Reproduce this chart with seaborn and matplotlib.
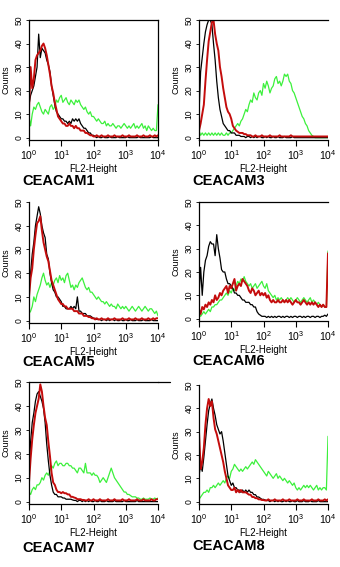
import numpy as np
import pandas as pd
import matplotlib
matplotlib.use("Agg")
import matplotlib.pyplot as plt
from matplotlib.lines import Line2D
import seaborn as sns

# ---------------- data ----------------
# FL2 channel grid (log10 decades 0..4, step 0.05)
decades = np.linspace(0, 4, 81)
fl2 = 10 ** decades

panel_names = ["CEACAM1", "CEACAM3", "CEACAM5", "CEACAM6", "CEACAM7", "CEACAM8"]

cea1_black = [14,18,20,22,26,30,44,34,38,37,36,33,31,28,22,18,14,11,10,9,8,8,7,7,6,7,6,8,7,8,7,8,6,5,4,4,3,2,2,1,1,0.5,0,0.5,0,0,0.5,0,0,0,0.5,0,0,0,0,0.5,0,0,0,0,0,0.5,0,0,0,0,0,0,0.5,0,0,0,0,0,0,0,0.5,0,0,0,0]
cea1_red = [12,30,21,25,33,35,36,37,39,40,38,35,31,27,22,19,15,12,9,8,7,6,6,5,5,6,5,5,4,5,4,4,3,3,3,2,2,1.5,1,1,0.5,0.5,1,0.5,0.5,1,0.5,0.5,0.5,1,0.5,0.5,0.5,1,0.5,0.5,0.5,0.5,1,0.5,0.5,0.5,1,0.5,0.5,0.5,0.5,1,0.5,0.5,0.5,1,0.5,0.5,0.5,1,0.5,0.5,1,0.5,1]
cea1_green = [9,5,10,13,12,14,15,13,11,10,12,11,10,13,14,12,13,16,15,17,18,15,16,17,15,14,16,15,14,16,15,16,14,13,12,13,11,10,11,9,9,8,7,8,7,6,6,7,5,6,5,5,6,5,4,5,5,4,5,6,5,4,5,4,5,6,4,5,4,5,6,4,5,3,5,4,3,4,3,3,14]

cea3_black = [10,28,34,40,45,48,50,50,48,40,33,24,17,12,9,6,5,4,3,3,2,2,2,1,1,1,0.5,0.5,0.5,0,0.5,0.5,0,0.5,0,0.5,0,0.5,0.5,0,0,0.5,0,0.5,0,0,0.5,0,0,0.5,0,0,0,0.5,0,0,0,0,0.5,0,0,0,0,0,0,0,0,0,0,0,0,0,0,0,0,0,0,0,0,0,0]
cea3_red = [3,6,10,14,24,33,41,45,49,50,44,40,37,30,26,21,17,13,11,10,8,5,4,3,2.5,2,2,2,1.5,1.5,1,1,1,0.5,0.5,1,0.5,0.5,0.5,1,0.5,0.5,0.5,0.5,1,0.5,0.5,0.5,0.5,0.5,1,0.5,0.5,0.5,0.5,0.5,0.5,1,0.5,0.5,0.5,0.5,0.5,0.5,0.5,0.5,0.5,0.5,0.5,0.5,0.5,0.5,0.5,0.5,0.5,0.5,0.5,0.5,0.5,0.5,0.5]
cea3_green = [3,1,2,1,2,1,2,1,2,1,2,1,2,1,2,1,1,2,1,2,2,3,4,5,6,5,7,8,10,12,11,14,16,15,19,17,16,19,20,18,23,21,24,22,19,21,22,25,26,23,24,22,24,27,26,27,24,23,20,19,17,15,13,11,9,8,6,5,3,2,1,0.5,0,0,0,0,0,0,0,0,0]

cea5_black = [15,20,28,33,40,44,48,45,40,37,35,28,26,20,16,13,12,10,10,9,8,6,6,5,5,5,6,5,6,5,10,4,4,3,3,3,2,2,2,1.5,1,1,0.5,0.5,0.5,0,0.5,0.5,0,0.5,0,0.5,0.5,0,0.5,0,0,0.5,0,0,0.5,0,0,0.5,0,0,0,0.5,0,0,0,0.5,0,0,0,0,0.5,0,0,0,0]
cea5_red = [10,18,22,30,36,41,42,44,38,33,30,27,25,21,17,15,13,11,9,8,7,7,6,6,5,5,5,5,4,4,4,3,3,3,2,2,2,1.5,1.5,1,1,0.5,1,0.5,0.5,1,0.5,0.5,0.5,1,0.5,0.5,0.5,1,0.5,0.5,0.5,0.5,1,0.5,0.5,0.5,1,0.5,0.5,0.5,1,0.5,0.5,0.5,1,0.5,0.5,0.5,1,0.5,0.5,1,0.5,1,1]
cea5_green = [3,4,6,10,8,11,13,15,18,20,17,15,16,14,16,15,17,18,16,19,17,18,16,19,20,17,14,15,13,15,14,16,17,18,16,14,13,14,12,12,11,10,9,10,9,8,8,7,8,7,6,7,6,6,5,7,6,5,6,5,6,5,4,5,6,5,4,5,6,5,4,5,6,5,4,5,5,4,3,4,2]

cea6_black = [10,22,10,20,25,27,31,33,32,32,27,36,30,26,21,20,20,17,15,15,14,13,11,11,10,10,9,8,8,7,7,7,6,6,5,5,3,2,1.5,1,1,1,0.5,1,0.5,1,0.5,1,0.5,1,1,0.5,1,0.5,1,1,0.5,1,0.5,1,1,0.5,1,1,0.5,1,0.5,1,1,0.5,1,1,0.5,1,1,0.5,1,1,1.5,1,2]
cea6_red = [4,2,5,4,6,5,7,6,8,7,10,8,9,11,10,12,13,14,11,14,13,15,17,12,14,15,14,17,16,15,14,12,11,13,12,10,11,12,10,11,10,11,9,10,8,7,8,7,7,8,7,7,8,7,8,7,8,7,6,7,8,7,7,6,7,8,7,6,7,6,7,6,7,6,5,6,5,6,5,5,28]
cea6_green = [2,1,2,3,2,3,4,3,5,5,6,6,7,8,8,9,10,11,10,12,11,13,12,14,16,15,17,16,18,16,15,14,15,13,14,15,13,14,15,16,14,13,15,12,11,10,9,10,8,9,8,9,8,7,8,9,8,9,8,7,8,9,8,7,8,9,8,7,8,9,7,8,7,6,7,6,5,6,5,5,29]

cea7_black = [11,25,33,37,42,45,46,44,42,39,33,24,17,11,7,4,3,3,2,2,2,1.5,1.5,1,1,1,1,0.7,0.5,0.5,0,0.5,0.5,0,0.5,0,0.5,0,0.5,0,0,0.5,0,0,0.5,0,0,0,0.5,0,0,0,0,0.5,0,0,0,0,0,0.5,0,0,0,0,0,0,0,0.5,0,0,0,0,0,0,0,0,0,0,0,0,0]
cea7_red = [8,18,26,32,37,40,43,49,46,40,35,32,25,19,12,8,7,5,4,4,3.5,4,3.5,3.5,3,3,2,2,1.7,1.5,1,1,1,0.7,0.7,0.5,0.5,1,0.5,0.5,1,0.5,0.5,0.5,1,0.5,0.5,0.5,0.5,1,0.5,0.5,0.5,1,0.5,0.5,0.5,0.5,1,0.5,0.5,0.5,1,0.5,0.5,0.5,0.5,1,0.5,0.5,0.5,1,0.5,0.5,0.5,0.5,1,0.5,0.5,1,1]
cea7_green = [4,3,5,6,5,7,7,8,10,9,11,12,11,13,15,14,16,17,15,16,16,15,15,16,16,15,15,14,14,13,12,14,14,13,12,16,12,12,12,11,12,11,11,10,8,9,10,9,8,10,12,14,12,10,9,8,7,6,5,4,4,3,3,2.5,2,2,2,1.5,1.5,1,1,1.5,1,1,1,1.5,1,1,1.5,1,1.5]

cea8_black = [11,16,13,19,26,33,39,42,44,40,37,33,31,29,30,26,21,16,11,9,7,8,6,6,5,5,4,5,4,5,4,5,4,4,3,3,2,2,1.5,1,1,0.7,0.5,0.5,0,0.5,0.5,0,0.5,0,0.5,0,0,0.5,0,0.5,0,0,0.5,0,0,0.5,0,0,0,0.5,0,0,0,0.5,0,0,0,0,0.5,0,0,0,0,0,0]
cea8_red = [30,14,17,23,33,40,44,41,43,36,31,29,26,23,20,17,13,10,7,6,5,5,6,4,5,4,5,4,4,4,3.5,3,3,2,2,1.5,1.5,1,1,0.7,0.7,0.5,0.5,1,0.5,0.5,0.5,1,0.5,0.5,0.5,0.5,1,0.5,0.5,0.5,1,0.5,0.5,0.5,0.5,1,0.5,0.5,0.5,1,0.5,0.5,0.5,0.5,1,0.5,0.5,0.5,1,0.5,0.5,0.5,1,0.5,1]
cea8_green = [1,2,3,4,4,5,4,6,6,7,6,7,8,7,8,9,8,10,11,10,13,14,16,15,14,13,14,13,14,15,14,15,16,17,16,18,17,16,15,14,13,12,11,13,12,11,10,11,12,10,11,10,9,10,9,8,9,8,7,8,6,5,6,5,6,7,6,7,6,7,6,5,6,7,5,6,5,6,6,5,28]

black_series = [cea1_black, cea3_black, cea5_black, cea6_black, cea7_black, cea8_black]
red_series = [cea1_red, cea3_red, cea5_red, cea6_red, cea7_red, cea8_red]
green_series = [cea1_green, cea3_green, cea5_green, cea6_green, cea7_green, cea8_green]

count_ticks = [0, 10, 20, 30, 40, 50]
fl2_ticks = [1, 10, 100, 1000, 10000]
fl2_ticklabels = [r"$\mathregular{10^{0}}$", r"$\mathregular{10^{1}}$", r"$\mathregular{10^{2}}$",
                  r"$\mathregular{10^{3}}$", r"$\mathregular{10^{4}}$"]

# ---------------- style ----------------
sns.set_style("ticks")
plt.rcParams["font.family"] = ["Liberation Sans", "DejaVu Sans"]
plt.rcParams["mathtext.fontset"] = "custom"
plt.rcParams["mathtext.rm"] = "Liberation Sans"
for key in ["text.color", "axes.labelcolor", "xtick.color", "ytick.color", "axes.edgecolor"]:
    plt.rcParams[key] = "black"

W, H = 340, 567
fig = plt.figure(figsize=(W / 100, H / 100), dpi=100)
fig.patch.set_facecolor("white")

# pixel boxes: left, right, top, bottom
boxes = [(29, 158, 20, 140), (199, 328, 20, 140),
         (29, 158, 202, 323), (199, 328, 202, 321),
         (29, 158, 382, 504), (199, 328, 385, 504)]
top_spine = [True, True, False, True, True, False]
right_spine = [True, False, False, False, False, False]
label_pos = [(22, 181), (192, 181), (22, 362), (192, 361), (22, 548), (192, 546)]

C_BLACK = "#000000"
C_RED = "#c40c0c"
C_GREEN = "#3cf03c"

for k in range(6):
    L, R, T, B = boxes[k]
    ax = fig.add_axes([L / W, 1 - B / H, (R - L) / W, (B - T) / H])
    ax.set_facecolor("white")
    df = pd.DataFrame({"fl2": fl2, "black": black_series[k],
                       "red": red_series[k], "green": green_series[k]})
    sns.lineplot(data=df, x="fl2", y="green", ax=ax, color=C_GREEN, lw=0.9,
                 estimator=None, sort=False, legend=False)
    sns.lineplot(data=df, x="fl2", y="black", ax=ax, color=C_BLACK, lw=0.9,
                 estimator=None, sort=False, legend=False)
    sns.lineplot(data=df, x="fl2", y="red", ax=ax, color=C_RED, lw=1.4,
                 estimator=None, sort=False, legend=False)
    ax.set_xscale("log")
    ax.set_xlim(1, 10000)
    ax.set_ylim(-1, 50)
    ax.set_xticks(fl2_ticks)
    ax.set_xticklabels(fl2_ticklabels, fontsize=7.5)
    ax.set_yticks(count_ticks)
    ax.set_yticklabels([str(v) for v in count_ticks], fontsize=6.2, rotation=90, va="center")
    ax.tick_params(axis="x", which="major", length=4, width=0.8, pad=2, direction="out")
    ax.tick_params(axis="x", which="minor", length=2.5, width=0.6, direction="out")
    ax.tick_params(axis="y", which="major", length=2, width=0.6, pad=2)
    ax.set_xlabel("FL2-Height", fontsize=7, labelpad=1)
    ax.set_ylabel("Counts", fontsize=6.5, labelpad=3)
    for s in ax.spines.values():
        s.set_linewidth(0.9)
        s.set_color("black")
    ax.spines["top"].set_visible(top_spine[k])
    ax.spines["right"].set_visible(right_spine[k])
    lx, ly = label_pos[k]
    fig.text(lx / W, 1 - ly / H, panel_names[k], fontsize=10.5, fontweight="bold",
             ha="left", va="center", color="black")

# frame line of the CEACAM7 panel runs on past its plot area
fig.add_artist(Line2D([158 / W, 170 / W], [1 - 382 / H, 1 - 382 / H],
                      color="black", lw=0.9, transform=fig.transFigure))

fig.savefig("out.png", dpi=100, facecolor="white")
